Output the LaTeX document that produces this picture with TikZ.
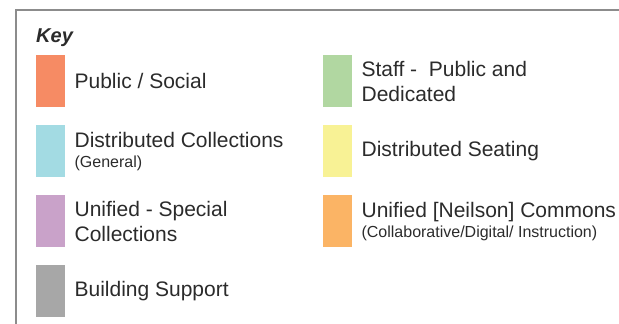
\documentclass[tikz,border=0pt]{standalone}
\usepackage{fontspec}
\setmainfont{Liberation Sans}
\usetikzlibrary{positioning}
\definecolor{keyframe}{HTML}{8C8C8C}
\definecolor{keytext}{HTML}{2B2B2B}
\definecolor{kpublic}{HTML}{F68B64}
\definecolor{kdistcoll}{HTML}{A3DBE3}
\definecolor{kspecial}{HTML}{C9A2C9}
\definecolor{kbuilding}{HTML}{A7A7A7}
\definecolor{kstaff}{HTML}{B1D7A1}
\definecolor{kseating}{HTML}{F8F295}
\definecolor{kcommons}{HTML}{FBB465}

\begin{document}
\begin{tikzpicture}[x=1pt, y=-1pt,
  every node/.style={text=keytext, inner sep=0pt},
  swatch/.style={minimum width=29pt, minimum height=52pt, anchor=north west},
  keylabel/.style={right=9pt of #1, align=left, font=\fontsize{21}{25}\selectfont},
  subtext/.style={font=\fontsize{16}{19}\selectfont}]

  \useasboundingbox (0,0) rectangle (619,324);

  % ---- Frame ----
  \draw[keyframe, line width=2pt] (16,324) -- (16,10) -- (619,10);

  % ---- Title ----
  \node[font=\fontsize{20}{24}\selectfont\bfseries\itshape, anchor=base west]
    (key) at (36,42) {Key};

  % ---- Left column ----
  \node[swatch, fill=kpublic] (ps) at (36,55) {};
  \node[keylabel=ps] (pslbl) {Public / Social};

  \node[swatch, fill=kdistcoll] (dc) at (36,125) {};
  \node[keylabel=dc] (dclbl)
    {Distributed Collections\\[-5pt]{\fontsize{16}{19}\selectfont (General)}};

  \node[swatch, fill=kspecial] (sc) at (36,195) {};
  \node[keylabel=sc] (sclbl) {Unified - Special\\Collections};

  \node[swatch, fill=kbuilding] (bs) at (36,265) {};
  \node[keylabel=bs] (bslbl) {Building Support};

  % ---- Right column ----
  \node[swatch, fill=kstaff] (st) at (323,55) {};
  \node[keylabel=st] (stlbl) {Staff -~ Public and\\Dedicated};

  \node[swatch, fill=kseating] (ds) at (323,125) {};
  \node[keylabel=ds] (dslbl) {Distributed Seating};

  \node[swatch, fill=kcommons] (uc) at (323,195) {};
  \node[keylabel=uc] (uclbl)
    {Unified [Neilson] Commons\\[-5pt]{\fontsize{16}{19}\selectfont (Collaborative/Digital/ Instruction)}};

\end{tikzpicture}
\end{document}
